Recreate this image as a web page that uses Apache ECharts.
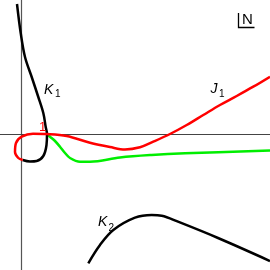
<!DOCTYPE html>
<html><head><meta charset="utf-8">
<script src="https://cdn.jsdelivr.net/npm/echarts@6/dist/echarts.min.js"></script>
<style>html,body{margin:0;padding:0;background:#fff}#c{width:270px;height:270px}</style>
</head><body><div id="c"></div>
<script>
// Curves in the complex plane (units: chart px offsets from origin)
const k1Curve = [[-4.5,130],[-0.8,101],[3.5,77],[10.2,57],[16.8,37],[21.8,21],[24.2,7],[25.5,0],[25,-11],[21.8,-22],[15.2,-27],[8.5,-27.5],[1.2,-26]];
const j1Curve = [[1.2,-26],[-3.2,-24],[-6.5,-18],[-5.5,-9],[0.2,-2.7],[11.5,0.3],[25.2,0],[45.2,-2],[68.5,-8.7],[88.5,-13],[103.5,-15.5],[118.5,-13.3],[131.8,-7.7],[148.5,0],[165.2,9],[181.8,19],[198.5,29],[215.2,38],[231.8,47.3],[248.5,57.3]];
const greenCurve = [[25.5,0],[28.5,-2.7],[33.5,-7],[38.5,-12.7],[43.5,-19],[48.5,-24],[58.5,-27.7],[68.5,-27.7],[98.5,-23.5],[130,-21],[163.5,-19.3],[248.5,-16.5]];
const k2Curve = [[66.8,-129.3],[78.5,-111],[91.8,-96],[113.5,-83.7],[130.2,-81],[140.2,-81.7],[156.5,-87.7],[196.5,-104],[248.5,-127]];
const labels = [
  {main:'K', sub:'1', at:[22.5,44], subAt:[33.5,39.5], color:'#000'},
  {main:'J', sub:'1', at:[189,45], subAt:[197.5,40], color:'#000'},
  {main:'K', sub:'2', at:[76.5,-88], subAt:[87,-94], color:'#000'}
];
const pointLabel = {text:'1', at:[17.5,7], color:'#ff0000'};
const nLabel = {text:'N', at:[220.5,114.5], bracket:[[217,121],[217,106.5],[233,106.5]]};

const chart = echarts.init(document.getElementById('c'));
function line(data, color, z){
  return {type:'line', data, smooth:0.35, symbol:'none', z, lineStyle:{color, width:2.5}, silent:true};
}
chart.setOption({
  animation:false,
  grid:{left:0,right:0,top:0,bottom:0},
  xAxis:{type:'value',min:-21.5,max:248.5,axisLine:{show:true,onZero:true,lineStyle:{color:'#444',width:1.2}},axisTick:{show:false},axisLabel:{show:false},splitLine:{show:false}},
  yAxis:{type:'value',min:-136,max:134,axisLine:{show:true,onZero:true,lineStyle:{color:'#555',width:1.2}},axisTick:{show:false},axisLabel:{show:false},splitLine:{show:false}},
  series:[line(k2Curve,'#000',2), line(greenCurve,'#00ee00',3), line(k1Curve,'#000',4), line(j1Curve,'#ff0000',5)]
});
const px = p => chart.convertToPixel({gridIndex:0}, p);
const els = [];
const font = '"Liberation Sans", Arial, sans-serif';
labels.forEach(l => {
  const a = px(l.at), b = px(l.subAt);
  els.push({type:'text', x:a[0], y:a[1], style:{text:l.main, fill:l.color, font:'italic 14px '+font, verticalAlign:'middle'}});
  els.push({type:'text', x:b[0], y:b[1], style:{text:l.sub, fill:l.color, font:'10px '+font, verticalAlign:'middle'}});
});
{
  const a = px(pointLabel.at);
  els.push({type:'text', x:a[0], y:a[1], z:10, style:{text:pointLabel.text, fill:pointLabel.color, font:'13px '+font, verticalAlign:'middle'}});
}
{
  const a = px(nLabel.at);
  els.push({type:'text', x:a[0], y:a[1], style:{text:nLabel.text, fill:'#000', font:'15px '+font, verticalAlign:'middle'}});
  els.push({type:'polyline', shape:{points:nLabel.bracket.map(px)}, style:{stroke:'#000', lineWidth:1.3, fill:null}});
}
chart.setOption({graphic:{elements:els}});
</script></body></html>
